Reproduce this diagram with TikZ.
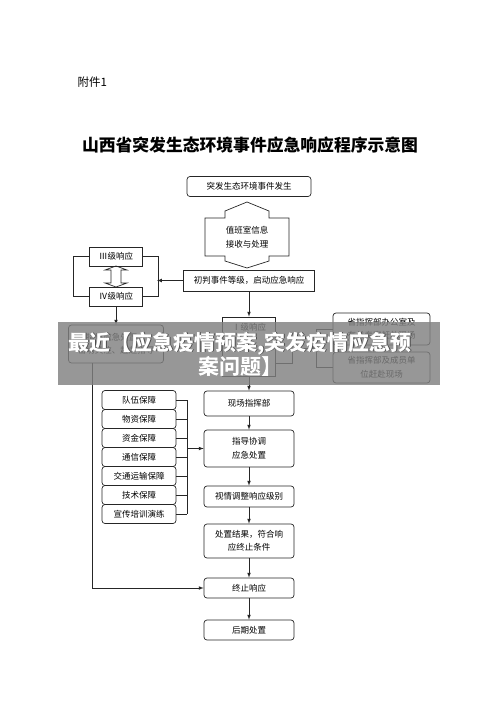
\documentclass[tikz,border=0pt]{standalone}
\usepackage{fontspec}
\newfontfamily\cjk{Noto Sans CJK SC}
\usetikzlibrary{arrows}
\usetikzlibrary{positioning}
\newcommand\bxfont{\cjk\fontsize{8.5}{13.5}\selectfont}
\tikzset{
  sqbox/.style={draw=black!85, line width=0.7pt, inner sep=0pt, align=center, font=\bxfont},
  rbox/.style={sqbox, rounded corners=3pt},
  link/.style={draw=black!85, line width=0.7pt},
  arr/.style={link, -latex}
}
\begin{document}
\begin{tikzpicture}[x=1pt, y=-1pt]
\useasboundingbox (0,0) rectangle (500,707);
\node[font=\cjk\fontsize{11.5}{14}\selectfont, anchor=west] (annex) at (74,82) {附件1};
\node[font=\cjk\bfseries\fontsize{16.8}{20}\selectfont] (title) at (250,145) {山西省突发生态环境事件应急响应程序示意图};

\node[rbox, minimum width=124, minimum height=20] (start) at (249,186.5) {突发生态环境事件发生};
\draw[link] (247,202) -- (269,211) -- (269,218) -- (289,218) -- (289,256) -- (269,256) -- (269,261)
  -- (247,268) -- (225,261) -- (225,256) -- (205,256) -- (205,218) -- (225,218) -- (225,211) -- cycle;
\node[font=\bxfont, align=center] (duty) at (247,237) {值班室信息\\接收与处理};
\node[sqbox, minimum width=131, minimum height=21] (judge) at (249,280.5) {初判事件等级，启动应急响应};

\node[sqbox, minimum width=53, minimum height=19] (lvl3) at (116,256.5) {Ⅲ级响应};
\node[sqbox, minimum width=53, minimum height=19] (lvl4) at (116,296.5) {Ⅳ级响应};
\draw[link] (116,266) -- (127,270) -- (121,270) -- (121,283) -- (127,283) -- (116,287)
  -- (105,283) -- (111,283) -- (111,270) -- (105,270) -- cycle;
\draw[link] (lvl3.west) -- ++(-16,0) |- (lvl4.west);
\draw[link] (lvl3.east) -- ++(15,0) |- (lvl4.east);
\coordinate (b34) at (157,280.5);
\draw[arr] (judge.west) -- (b34);
\node[rbox, minimum width=95, minimum height=38] (guide) at (116,344) {指导应急处置，\\密切关注、赶赴指导};
\draw[arr] (lvl4.south) -- (guide.north);

\node[sqbox, minimum width=53, minimum height=59] (lvl1) at (249,346.5) {};
\node[font=\bxfont, below=3pt of lvl1.north] (lvl1t) {Ⅰ级响应};
\draw[arr] (judge.south) -- (lvl1.north);
\node[rbox, minimum width=97, minimum height=32] (office) at (381.5,329) {省指挥部办公室及\\有关专家赶赴现场};
\node[rbox, minimum width=97, minimum height=31] (units) at (381.5,367.5) {省指挥部及成员单\\位赶赴现场};
\draw[link] (office.west) -- ++(-16,0) |- (units.west);
\coordinate (b1) at (317,348);
\draw[arr] ([yshift=13]lvl1.south east) -- ++(16,0) |- (b1);

\node[rbox, minimum width=90, minimum height=25] (site) at (249,403.5) {现场指挥部};
\node[rbox, minimum width=90, minimum height=37] (direct) at (249,448.5) {指导协调\\应急处置};
\node[rbox, minimum width=90, minimum height=21] (adjust) at (249,496.5) {视情调整响应级别};
\node[rbox, minimum width=90, minimum height=34] (result) at (249,541) {处置结果，符合响\\应终止条件};
\node[rbox, minimum width=90, minimum height=20] (stop) at (249,588) {终止响应};
\node[rbox, minimum width=90, minimum height=20] (after) at (249,630) {后期处置};
\draw[arr] (lvl1.south) -- (site.north);
\foreach \a/\b in {site/direct, direct/adjust, adjust/result, result/stop, stop/after}
  \draw[arr] (\a.south) -- (\b.north);

\foreach \t [count=\i] in {队伍保障, 物资保障, 资金保障, 通信保障, 交通运输保障, 技术保障, 宣传培训演练}{
  \node[rbox, minimum width=74, minimum height=19] (sup\i) at (139,381+19*\i) {\t};
  \draw[link] (sup\i.east) -- ++(11,0);
}
\draw[link] ([xshift=11]sup1.east) -- ([xshift=11]sup7.east);
\draw[arr] ([xshift=11]sup1.east |- direct.west) -- (direct.west);
\draw[arr] ([xshift=-24]guide.south) |- (stop.west);

\fill[black!50, opacity=0.82] (58,322) rectangle (440,385);
\node[text=black!70, font=\cjk\bfseries\fontsize{21}{24}\selectfont, align=center] (bshadow) at (240.8,354.8) {最近【应急疫情预案,突发疫情应急预\\案问题】};
\node[text=white, font=\cjk\bfseries\fontsize{21}{24}\selectfont, align=center] (banner) at (240,354) {最近【应急疫情预案,突发疫情应急预\\案问题】};
\end{tikzpicture}
\end{document}
